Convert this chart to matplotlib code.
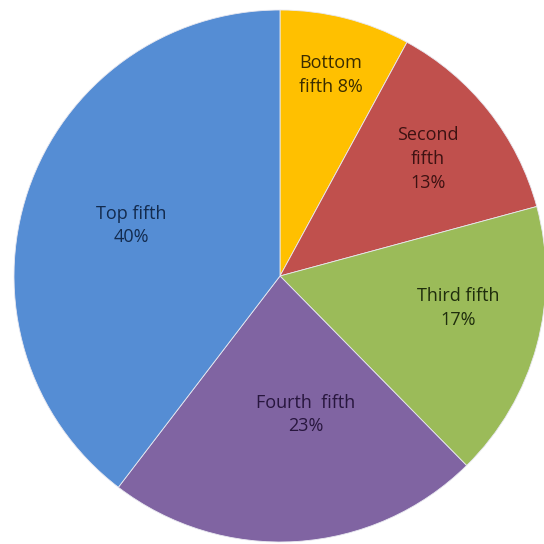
import numpy as np
import matplotlib.pyplot as plt

# Dados do gráfico
categorias = ["Bottom\nfifth 8%", "Second\nfifth\n13%", "Third fifth\n17%",
              "Fourth  fifth\n23%", "Top fifth\n40%"]
valores = [8, 13, 17, 23, 40]
cores = ["#FFC000", "#C0504D", "#9BBB59", "#8064A2", "#558DD4"]
cores_texto = ["#3a2c00", "#3d1212", "#1f2d0d", "#28163e", "#132b4e"]
dist_rotulos = [0.78, 0.71, 0.68, 0.53, 0.59]
ajuste_angulo = [0, 0, 5, 7, 0]

fig = plt.figure(figsize=(5.44, 5.44), dpi=100)
ax = fig.add_axes([0, 0, 1, 1])

# Raio em píxeis e centro da tarte
raio_px = 266
cx, cy = 280, 268

wedges, _ = ax.pie(valores, colors=cores, startangle=90, counterclock=False,
                   radius=1, wedgeprops=dict(edgecolor="#e8e8f0", linewidth=0.6))

for w, txt, cor, d, da in zip(wedges, categorias, cores_texto, dist_rotulos, ajuste_angulo):
    ang = np.deg2rad((w.theta1 + w.theta2) / 2 + da)
    ax.text(d * np.cos(ang), d * np.sin(ang), txt, ha="center", va="center",
            fontsize=13, color=cor, family=["Open Sans", "DejaVu Sans"],
            linespacing=1.4)

ax.set_xlim(-cx / raio_px, (544 - cx) / raio_px)
ax.set_ylim(-cy / raio_px, (544 - cy) / raio_px)
ax.set_aspect("auto")
ax.axis("off")

plt.savefig("out.png", dpi=100)
